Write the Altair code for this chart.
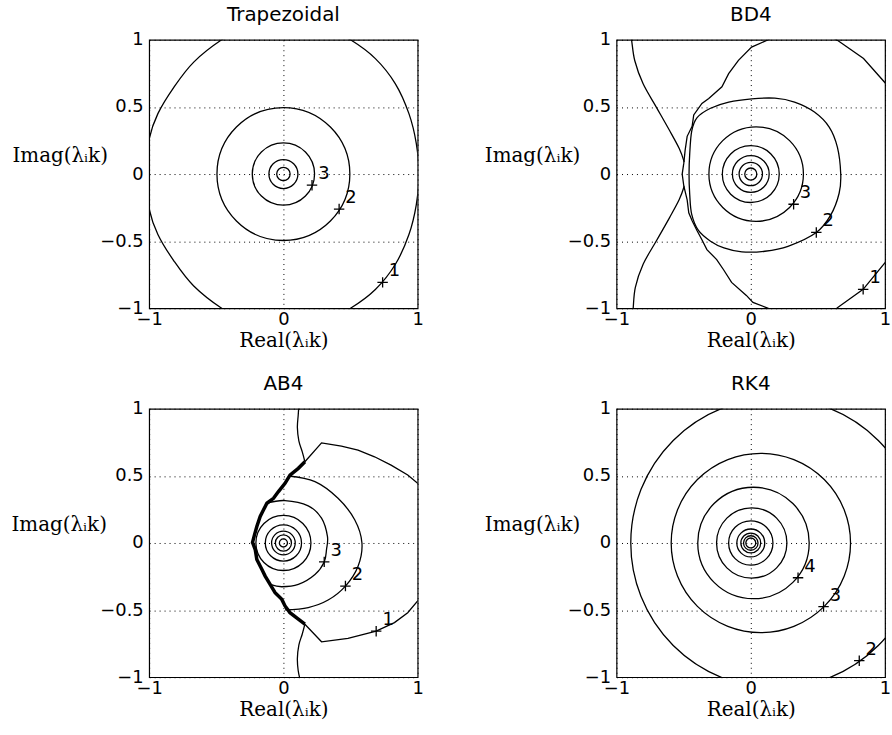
import altair as alt
import pandas as pd

PANELS = ["Trapezoidal", "BD4", "AB4", "RK4"]

# ---- circular contours (panel, centre x, centre y, radius) ----
RING_PANEL = ["Trapezoidal"] * 4 + ["BD4"] * 5 + ["AB4"] * 5 + ["RK4"] * 9
RING_CX = [0, 0, 0, 0,
           0, 0, 0, 0, 0.04,
           0, 0, 0, 0, 0,
           0, 0, 0, 0, 0, 0.007, 0.02, 0.075, 0.186]
RING_CY = [0] * 23
RING_R = [0.05, 0.108, 0.232, 0.495,
          0.045, 0.087, 0.137, 0.212, 0.352,
          0.03, 0.06, 0.088, 0.135, 0.205,
          0.037, 0.054, 0.074, 0.104, 0.165, 0.262, 0.415, 0.668, 1.08]

# ---- Trapezoidal outer contour (closed) ----
TRAP_OUTER_X = [0.02, 0.30, 0.50, 0.685, 0.833, 0.935, 0.99, 1.01, 0.99, 0.935, 0.833, 0.685, 0.50, 0.30,
                0.02, -0.27, -0.46, -0.668, -0.815, -0.935, -1.0, -1.03, -1.0, -0.935, -0.815, -0.668, -0.46, -0.27]
TRAP_OUTER_Y = [1.16, 1.10, 1.0, 0.86, 0.674, 0.45, 0.227, 0.0, -0.227, -0.45, -0.674, -0.86, -1.0, -1.10,
                -1.16, -1.10, -1.0, -0.834, -0.648, -0.45, -0.26, 0.0, 0.26, 0.45, 0.648, 0.834, 1.0, 1.10]

# ---- BD4 contours ----
BD4_RING_X = [0.67, 0.645, 0.584, 0.474, 0.326, 0.179, 0.007, -0.164, -0.30, -0.40, -0.44, -0.455,
              -0.46, -0.455, -0.44, -0.39, -0.30, -0.2, -0.066, 0.105, 0.277, 0.488, 0.596, 0.658]
BD4_RING_Y = [0.0, 0.2, 0.35, 0.462, 0.536, 0.565, 0.56, 0.536, 0.49, 0.42, 0.32, 0.15,
              0.0, -0.15, -0.30, -0.42, -0.50, -0.55, -0.58, -0.575, -0.538, -0.435, -0.304, -0.143]
BD4_OUTER_X = [1.08, 1.0, 0.84, 0.64, 0.45, 0.25, 0.13, 0.006, -0.092, -0.165, -0.215, -0.313, -0.364,
               -0.425, -0.437, -0.474, -0.489, -0.499, -0.511, -0.499, -0.474, -0.462, -0.437, -0.4,
               -0.364, -0.327, -0.254, -0.204, -0.143, -0.033, 0.016, 0.13, 0.25, 0.45, 0.64, 0.837, 1.0, 1.08]
BD4_OUTER_Y = [0.55, 0.68, 0.86, 1.0, 1.09, 1.08, 1.0, 0.946, 0.847, 0.748, 0.65, 0.563, 0.526,
               0.44, 0.356, 0.281, 0.178, 0.081, 0.0, -0.089, -0.193, -0.289, -0.348, -0.422,
               -0.489, -0.563, -0.637, -0.711, -0.807, -0.904, -0.956, -1.0, -1.08, -1.09, -1.0, -0.859, -0.66, -0.55]
BD4_LEFT_TOP_X = [-0.9, -0.888, -0.864, -0.802, -0.704, -0.606, -0.533, -0.496]
BD4_LEFT_TOP_Y = [1.05, 0.998, 0.844, 0.672, 0.499, 0.326, 0.19, 0.091]
BD4_LEFT_BOT_X = [-0.496, -0.533, -0.606, -0.704, -0.802, -0.86, -0.876, -0.88]
BD4_LEFT_BOT_Y = [-0.091, -0.19, -0.326, -0.499, -0.672, -0.844, -1.0, -1.05]

# ---- AB4 contours ----
AB4_R3_X = [-0.123, 0.012, 0.185, 0.284, 0.328, 0.321, 0.304, 0.235, 0.111, -0.012, -0.099]
AB4_R3_Y = [0.296, 0.316, 0.277, 0.185, 0.049, -0.049, -0.141, -0.235, -0.309, -0.326, -0.309]
AB4_R2_X = [0.037, 0.235, 0.407, 0.531, 0.585, 0.556, 0.462, 0.333, 0.185, 0.012]
AB4_R2_Y = [0.499, 0.457, 0.333, 0.173, 0.0, -0.173, -0.321, -0.425, -0.481, -0.499]
AB4_POLY_TOP_X = [0.16, 0.284, 0.432, 0.556, 0.679, 0.802, 0.926, 1.0, 1.05]
AB4_POLY_TOP_Y = [0.605, 0.746, 0.721, 0.691, 0.642, 0.58, 0.506, 0.444, 0.40]
AB4_POLY_BOT_X = [1.05, 1.0, 0.926, 0.827, 0.691, 0.481, 0.284, 0.16]
AB4_POLY_BOT_Y = [-0.38, -0.432, -0.519, -0.593, -0.657, -0.711, -0.736, -0.605]
AB4_THICK_X = [0.16, 0.111, 0.049, 0.012, -0.037, -0.074, -0.123, -0.148, -0.173, -0.198, -0.215, -0.23,
               -0.21, -0.198, -0.16, -0.136, -0.099, -0.062, -0.012, 0.012, 0.049, 0.111, 0.16]
AB4_THICK_Y = [0.605, 0.556, 0.506, 0.444, 0.383, 0.333, 0.296, 0.247, 0.198, 0.123, 0.062, 0.005,
               -0.049, -0.123, -0.198, -0.247, -0.309, -0.37, -0.42, -0.469, -0.519, -0.568, -0.605]
AB4_THIN_TOP_X = [0.115, 0.11, 0.104, 0.115, 0.14, 0.16]
AB4_THIN_TOP_Y = [1.02, 0.95, 0.86, 0.76, 0.68, 0.605]
AB4_THIN_BOT_X = [0.16, 0.14, 0.115, 0.104, 0.11, 0.125]
AB4_THIN_BOT_Y = [-0.605, -0.68, -0.76, -0.86, -0.95, -1.02]

CURVES = [
    ("Trapezoidal", "trap_outer", "closed", TRAP_OUTER_X, TRAP_OUTER_Y),
    ("BD4", "bd_ring", "closed", BD4_RING_X, BD4_RING_Y),
    ("BD4", "bd_outer", "linear", BD4_OUTER_X, BD4_OUTER_Y),
    ("BD4", "bd_left_top", "smooth", BD4_LEFT_TOP_X, BD4_LEFT_TOP_Y),
    ("BD4", "bd_left_bot", "smooth", BD4_LEFT_BOT_X, BD4_LEFT_BOT_Y),
    ("AB4", "ab_r3", "smooth", AB4_R3_X, AB4_R3_Y),
    ("AB4", "ab_r2", "smooth", AB4_R2_X, AB4_R2_Y),
    ("AB4", "ab_poly_top", "linear", AB4_POLY_TOP_X, AB4_POLY_TOP_Y),
    ("AB4", "ab_poly_bot", "linear", AB4_POLY_BOT_X, AB4_POLY_BOT_Y),
    ("AB4", "ab_thin_top", "smooth", AB4_THIN_TOP_X, AB4_THIN_TOP_Y),
    ("AB4", "ab_thin_bot", "smooth", AB4_THIN_BOT_X, AB4_THIN_BOT_Y),
    ("AB4", "ab_thick", "thick", AB4_THICK_X, AB4_THICK_Y),
]

# ---- step-size markers ----
MARK_PANEL = ["Trapezoidal"] * 3 + ["BD4"] * 3 + ["AB4"] * 3 + ["RK4"] * 3
MARK_X = [0.213, 0.415, 0.739, 0.319, 0.488, 0.837, 0.304, 0.462, 0.691, 0.352, 0.542, 0.808]
MARK_Y = [-0.083, -0.261, -0.807, -0.225, -0.435, -0.859, -0.141, -0.321, -0.657, -0.259, -0.474, -0.877]
MARK_LABEL = ["3", "2", "1", "3", "2", "1", "3", "2", "1", "4", "3", "2"]

X_TICKS = [-1, 0, 1]
Y_TICKS = [-1, -0.5, 0, 0.5, 1]
TITLE_X = {"Trapezoidal": -42, "BD4": -37, "AB4": -43, "RK4": -37}

ring_df = pd.DataFrame({"panel": RING_PANEL, "cx": RING_CX, "cy": RING_CY, "r": RING_R})
rows = []
for panel, cid, kind, xs, ys in CURVES:
    for i, (xv, yv) in enumerate(zip(xs, ys)):
        rows.append({"panel": panel, "cid": cid, "kind": kind, "ord": i, "x": xv, "y": yv})
curve_df = pd.DataFrame(rows)
mark_df = pd.DataFrame({"panel": MARK_PANEL, "x": MARK_X, "y": MARK_Y, "label": MARK_LABEL})

W = 270
LW = 1.3
SANS = "DejaVu Sans"
SERIF = "DejaVu Serif"


def make_panel(name):
    xscale = alt.Scale(domain=[-1, 1], nice=False, zero=False)
    yscale = alt.Scale(domain=[-1, 1], nice=False, zero=False)
    xaxis = alt.Axis(values=X_TICKS, format="~g", title="Real(λᵢk)", grid=True, labelPadding=2)
    yaxis = alt.Axis(values=Y_TICKS, format="~g", title="Imag(λᵢk)", grid=True, labelPadding=6,
                     titleAngle=0, titleAlign="right", titleBaseline="middle",
                     titleX=TITLE_X[name], titleY=116)

    def X(field):
        return alt.X(field, type="quantitative", scale=xscale, axis=xaxis)

    def Y(field):
        return alt.Y(field, type="quantitative", scale=yscale, axis=yaxis)

    layers = []
    rsub = ring_df[ring_df.panel == name]
    # circle symbol: diameter = sqrt(size) -> size = (W * r)^2 gives radius r in data units
    layers.append(
        alt.Chart(rsub).mark_point(shape="circle", filled=False, stroke="black", strokeWidth=LW,
                                   opacity=1, clip=True)
        .encode(x=X("cx"), y=Y("cy"),
                size=alt.Size("r:Q", legend=None,
                              scale=alt.Scale(type="pow", exponent=2, domain=[0, 1], range=[0, W * W])))
    )
    styles = [
        ("closed", {"interpolate": "cardinal-closed", "strokeWidth": LW}),
        ("smooth", {"interpolate": "cardinal", "strokeWidth": LW}),
        ("linear", {"interpolate": "linear", "strokeWidth": LW}),
        ("thick", {"interpolate": "linear", "strokeWidth": 3.5}),
    ]
    for kind, props in styles:
        sub = curve_df[(curve_df.panel == name) & (curve_df.kind == kind)]
        if len(sub):
            layers.append(
                alt.Chart(sub).mark_line(color="black", clip=True, **props)
                .encode(x=X("x"), y=Y("y"), detail="cid:N", order="ord:Q")
            )
    msub = mark_df[mark_df.panel == name]
    layers.append(
        alt.Chart(msub).mark_point(shape="M-1,0L1,0M0,-1L0,1", size=110, filled=False,
                                   stroke="black", strokeWidth=LW, opacity=1)
        .encode(x=X("x"), y=Y("y"))
    )
    layers.append(
        alt.Chart(msub).mark_text(dx=12, dy=-11, fontSize=18, font=SANS, color="black",
                                  align="center", baseline="middle")
        .encode(x=X("x"), y=Y("y"), text="label:N")
    )
    return alt.layer(*layers).properties(
        width=W, height=W,
        title=alt.TitleParams(name, font=SANS, fontSize=20, fontWeight="normal", offset=6, color="black"),
    )


row1 = alt.hconcat(make_panel("Trapezoidal"), make_panel("BD4"), spacing=59)
row2 = alt.hconcat(make_panel("AB4"), make_panel("RK4"), spacing=59)
chart = alt.vconcat(row1, row2, spacing=22).properties(
    padding={"left": 10, "top": 2, "right": 0, "bottom": 0}
).configure_view(
    stroke="black", strokeWidth=1.2
).configure_axis(
    labelFont=SANS, labelFontSize=18, labelColor="black",
    titleFont=SERIF, titleFontSize=20, titleFontWeight="normal", titleColor="black", titlePadding=2,
    gridColor="black", gridDash=[1, 4], gridWidth=1, gridOpacity=1,
    domain=False, ticks=False, labelFlush=False,
)

chart.save("out.html", embed_options={"renderer": "svg", "actions": False})
